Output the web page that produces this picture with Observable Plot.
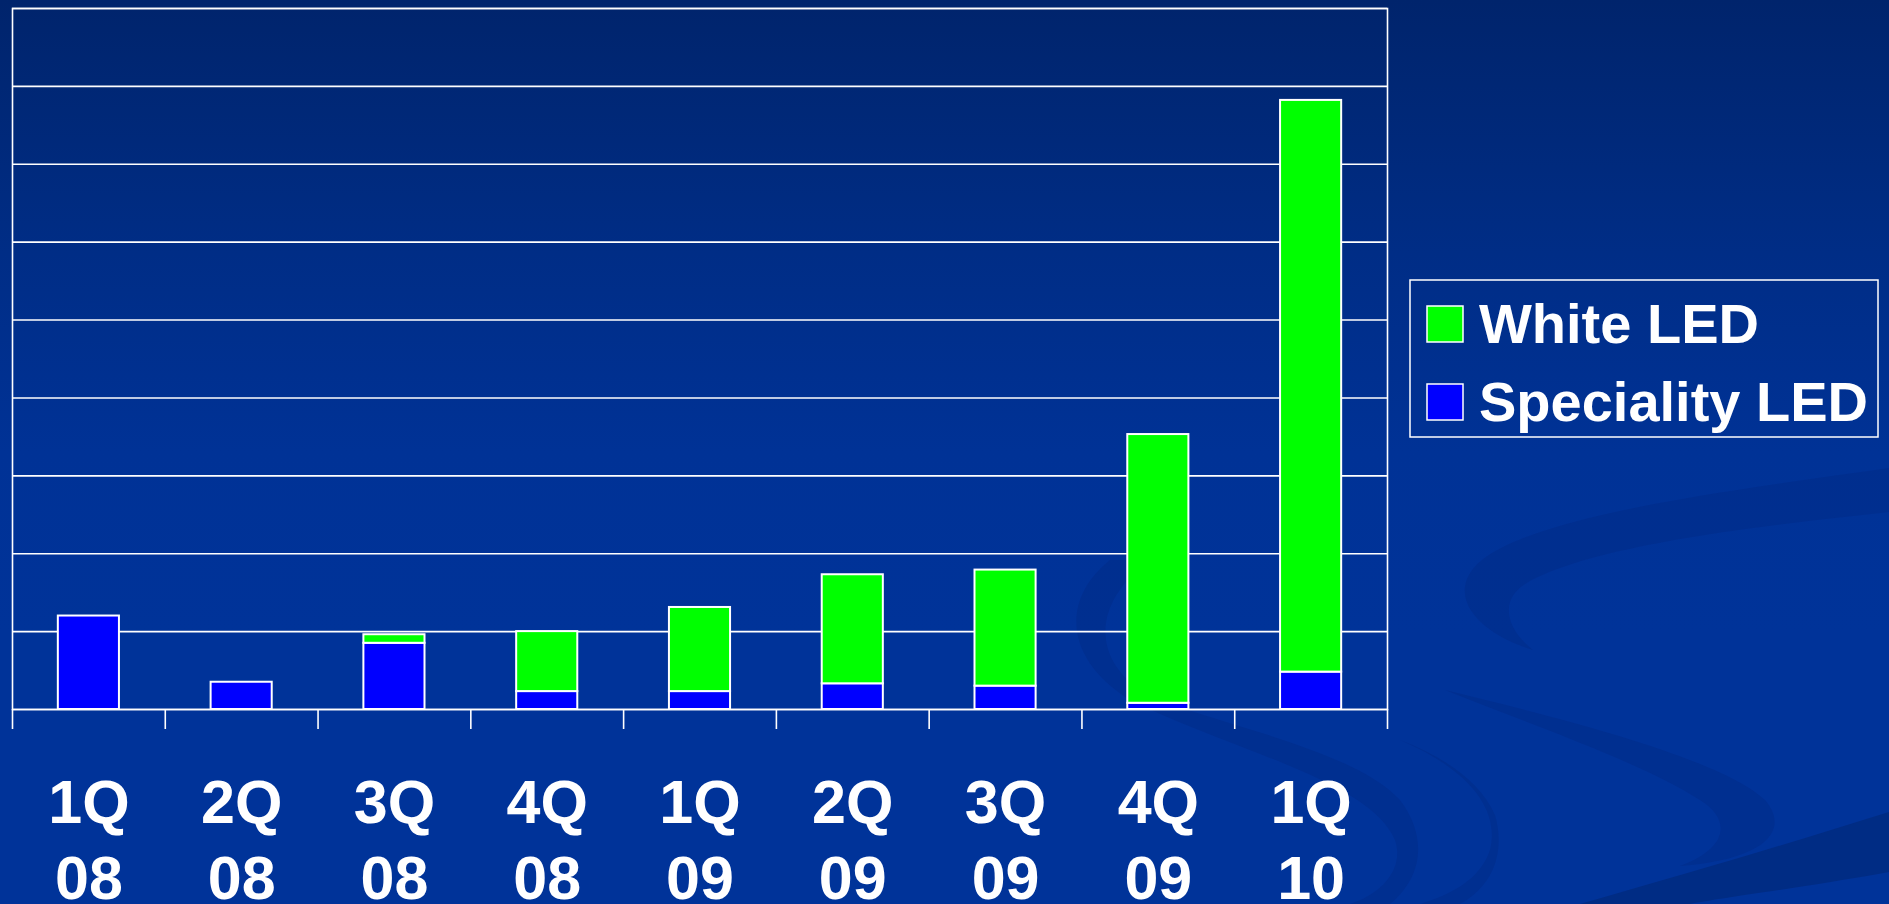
<!DOCTYPE html>
<html>
<head>
<meta charset="utf-8">
<script src="https://cdn.jsdelivr.net/npm/d3@7"></script>
<script src="https://cdn.jsdelivr.net/npm/@observablehq/plot@0.6"></script>
<style>
html, body { margin: 0; padding: 0; width: 1889px; height: 904px; overflow: hidden; }
body {
  position: relative;
  background: linear-gradient(to bottom, #00246c 0%, #002d86 28%, #003296 50%, #003399 70%, #003399 100%);
  font-family: "Liberation Sans", Arial, sans-serif;
}
#bg, #chart, #legend { position: absolute; left: 0; top: 0; }
#chart svg { display: block; }
</style>
</head>
<body>
<svg id="bg" width="1889" height="904">
  <g fill="#002a86" fill-opacity="0.45">
    <path d="M1889 468 C1720 492 1540 515 1482 560 C1445 590 1470 630 1533 650 C1505 628 1500 600 1525 584 C1590 545 1760 526 1889 512 Z"/>
    <path d="M1445 690 C1560 718 1720 758 1765 800 C1792 832 1762 860 1680 866 C1728 848 1732 820 1700 800 C1640 762 1540 728 1445 690 Z"/>
    <path d="M1110 560 C1060 600 1065 660 1130 700 C1230 750 1370 780 1395 840 C1405 870 1380 895 1350 904 L1390 904 C1420 880 1430 840 1400 800 C1350 745 1190 720 1140 690 C1090 655 1095 600 1150 560 Z"/>
    <path d="M1400 740 C1470 770 1500 810 1490 850 C1480 880 1450 895 1420 904 L1460 904 C1495 885 1505 850 1495 815 C1480 780 1440 755 1400 740 Z"/>
  </g>
  <path d="M1580 904 C1700 870 1800 840 1889 812 L1889 872 C1800 888 1720 898 1690 904 Z" fill="#002a7e" fill-opacity="0.8"/>
</svg>
<div id="chart"></div>
<div id="legend"></div>
<script>
// ---- data (values in chart units; one gridline = 1) ----
const quarters = ["1Q 08", "2Q 08", "3Q 08", "4Q 08", "1Q 09", "2Q 09", "3Q 09", "4Q 09", "1Q 10"];
const specialityLED = [1.20, 0.35, 0.85, 0.23, 0.23, 0.33, 0.30, 0.08, 0.48];
const whiteLED      = [0.00, 0.00, 0.11, 0.77, 1.08, 1.40, 1.49, 3.45, 7.34];
const seriesNames = ["Speciality LED", "White LED"];
const seriesColors = ["#0000ff", "#00ff00"];
const gridTicks = [0, 1, 2, 3, 4, 5, 6, 7, 8, 9];

// ---- layout ----
const W = 1889, H = 904;
const mL = 12, mR = 502, mT = 8, mB = 195;
const step = (W - mL - mR) / quarters.length;

const rows = quarters.flatMap((q, i) => [
  {quarter: q, series: seriesNames[0], value: specialityLED[i]},
  {quarter: q, series: seriesNames[1], value: whiteLED[i]}
]).filter(d => d.value > 0);

const chart = Plot.plot({
  width: W, height: H,
  marginLeft: mL, marginRight: mR, marginTop: mT, marginBottom: mB,
  style: {background: "transparent", color: "#fff", fontFamily: "'Liberation Sans', Arial, sans-serif", overflow: "visible"},
  x: {domain: quarters, paddingInner: 0.6, paddingOuter: 0.3, round: false},
  y: {domain: [0, gridTicks[gridTicks.length - 1]], axis: null},
  color: {domain: seriesNames, range: seriesColors},
  marks: [
    Plot.gridY(gridTicks, {stroke: "#fff", strokeOpacity: 1, strokeWidth: 1.6}),
    Plot.barY(rows, {x: "quarter", y: "value", fill: "series", stroke: "#fff", strokeWidth: 2}),
    Plot.frame({stroke: "#fff", strokeWidth: 1.6}),
    Plot.ruleX(quarters, {x: d => d, y1: 0, y2: 0, insetBottom: -20, dx: -step / 2, stroke: "#fff", strokeWidth: 1.6}),
    Plot.ruleX(quarters.slice(-1), {x: d => d, y1: 0, y2: 0, insetBottom: -20, dx: step / 2, stroke: "#fff", strokeWidth: 1.6}),
    Plot.axisX({
      tickSize: 0, tickPadding: 60, fontSize: 61, fontWeight: "bold", lineHeight: 1.24,
      tickFormat: d => d.replace(" ", "\n"), label: null, fill: "#fff"
    })
  ]
});
document.getElementById("chart").appendChild(chart);

// ---- legend (right side) ----
const lg = d3.select("#legend").append("svg")
  .attr("width", W).attr("height", H)
  .style("position", "absolute").style("left", 0).style("top", 0);
lg.append("rect").attr("x", 1410).attr("y", 280).attr("width", 468).attr("height", 157)
  .attr("fill", "none").attr("stroke", "#fff").attr("stroke-width", 1.5);
const items = seriesNames.map((n, i) => ({name: n, color: seriesColors[i]})).reverse();
items.forEach((d, i) => {
  lg.append("rect").attr("x", 1427).attr("y", 306 + i * 78).attr("width", 36).attr("height", 36)
    .attr("fill", d.color).attr("stroke", "#fff").attr("stroke-width", 1.5);
  lg.append("text").attr("x", 1479).attr("y", 343 + i * 78)
    .attr("fill", "#fff").attr("font-size", 56).attr("font-weight", "bold")
    .attr("font-family", "'Liberation Sans', Arial, sans-serif")
    .text(d.name);
});
</script>
</body>
</html>
